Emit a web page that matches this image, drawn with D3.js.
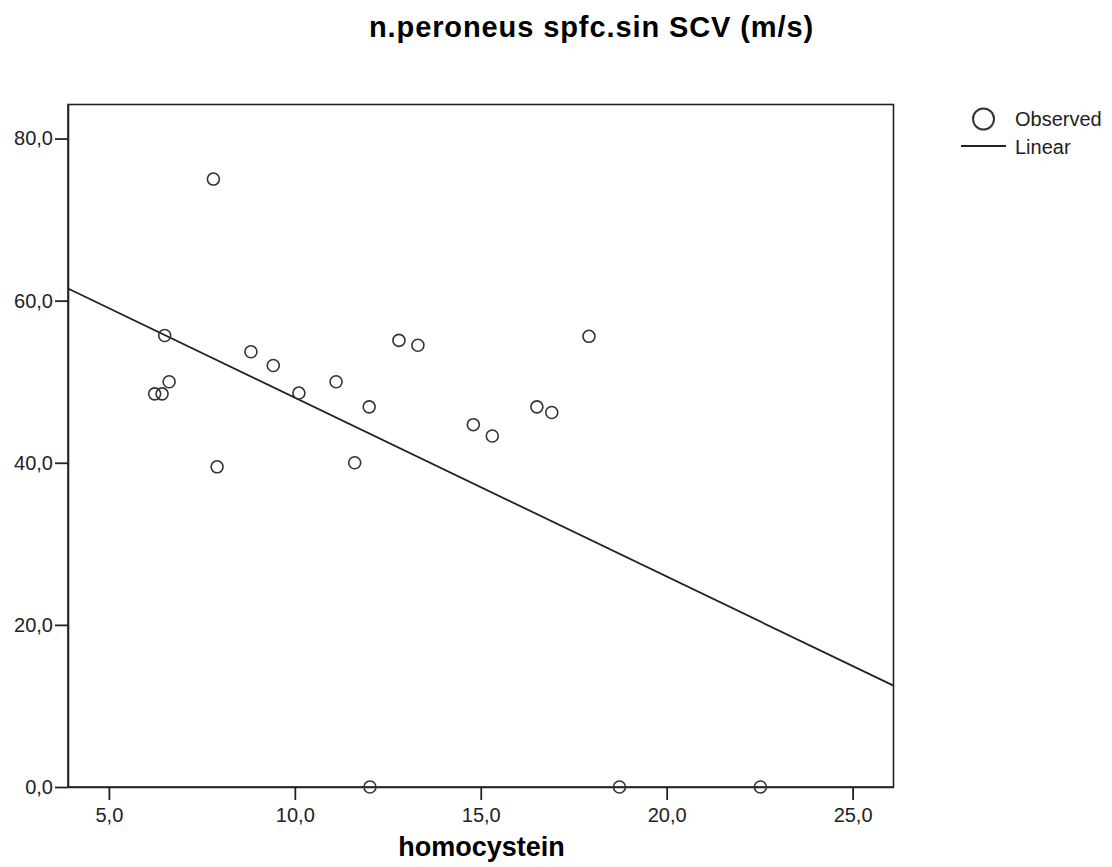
<!DOCTYPE html>
<html><head><meta charset="utf-8">
<script src="https://cdn.jsdelivr.net/npm/d3@7"></script>
<style>body{margin:0;background:#fff}svg{display:block}</style>
</head><body>
<script>
const homocystein = [7.81,6.50,6.62,6.23,6.43,7.91,8.82,9.42,10.11,12.80,13.31,11.11,12.00,11.61,14.80,15.31,16.51,16.91,17.91,12.02,18.73,22.52];
const scv = [75.0,55.7,50.0,48.5,48.5,39.5,53.7,52.0,48.6,55.1,54.5,50.0,46.9,40.0,44.7,43.3,46.9,46.2,55.6,0,0,0];
const xTicks = [5,10,15,20,25];
const yTicks = [0,20,40,60,80];
const fitLine = [{x:3.9,y:61.5},{x:26.1,y:12.5}];
const titleText = "n.peroneus spfc.sin SCV (m/s)";
const xLabel = "homocystein";
const legendItems = ["Observed","Linear"];

const W=1112,H=867;
const L=68,R=893.5,T=104.5,B=787;
const svg=d3.select("body").append("svg").attr("width",W).attr("height",H);
const x=d3.scaleLinear().domain([3.9,26.1]).range([L,R]);
const y=d3.scaleLinear().domain([0,84.2]).range([B,T]);
const fmt=d=>d.toFixed(1).replace(".",",");
const font="'Liberation Sans', Arial, sans-serif";

svg.append("rect").attr("x",L).attr("y",T).attr("width",R-L).attr("height",B-T)
  .attr("fill","none").attr("stroke","#222").attr("stroke-width",1.6);

const xa=svg.append("g").attr("transform",`translate(0,${B})`)
  .call(d3.axisBottom(x).tickValues(xTicks).tickFormat(fmt).tickSize(13).tickPadding(8).tickSizeOuter(0));
const ya=svg.append("g").attr("transform",`translate(${L},0)`)
  .call(d3.axisLeft(y).tickValues(yTicks).tickFormat(fmt).tickSize(13).tickPadding(2).tickSizeOuter(0));
[xa,ya].forEach(a=>{
  a.select(".domain").attr("stroke","#222").attr("stroke-width",1.6);
  a.selectAll(".tick line").attr("stroke","#222").attr("stroke-width",1.8);
  a.selectAll("text").attr("font-family",font).attr("font-size",20).attr("fill","#222");
});

svg.append("path").datum(fitLine)
  .attr("d",d3.line().x(d=>x(d.x)).y(d=>y(d.y)))
  .attr("stroke","#222").attr("stroke-width",1.8).attr("fill","none");

const pts=homocystein.map((h,i)=>({x:h,y:scv[i]}));
svg.append("g").selectAll("circle").data(pts).join("circle")
  .attr("cx",d=>x(d.x)).attr("cy",d=>y(d.y)).attr("r",6)
  .attr("fill","none").attr("stroke","#333").attr("stroke-width",1.6);

svg.append("text").attr("x",591.5).attr("y",37).attr("text-anchor","middle")
  .attr("font-family",font).attr("font-weight","bold").attr("font-size",29)
  .attr("letter-spacing","0.9px").attr("fill","#000")
  .text(titleText);
svg.append("text").attr("x",481.5).attr("y",856).attr("text-anchor","middle")
  .attr("font-family",font).attr("font-weight","bold").attr("font-size",27).attr("fill","#000")
  .text(xLabel);

const lg=svg.append("g");
lg.append("circle").attr("cx",983.5).attr("cy",119).attr("r",10.5)
  .attr("fill","none").attr("stroke","#333").attr("stroke-width",2);
lg.append("line").attr("x1",961).attr("x2",1006).attr("y1",146).attr("y2",146)
  .attr("stroke","#222").attr("stroke-width",2);
lg.selectAll("text").data(legendItems).join("text")
  .attr("x",1015).attr("y",(d,i)=>119+i*27.5).attr("dy","0.35em")
  .attr("font-family",font).attr("font-size",20).attr("fill","#222").text(d=>d);
</script>
</body></html>
